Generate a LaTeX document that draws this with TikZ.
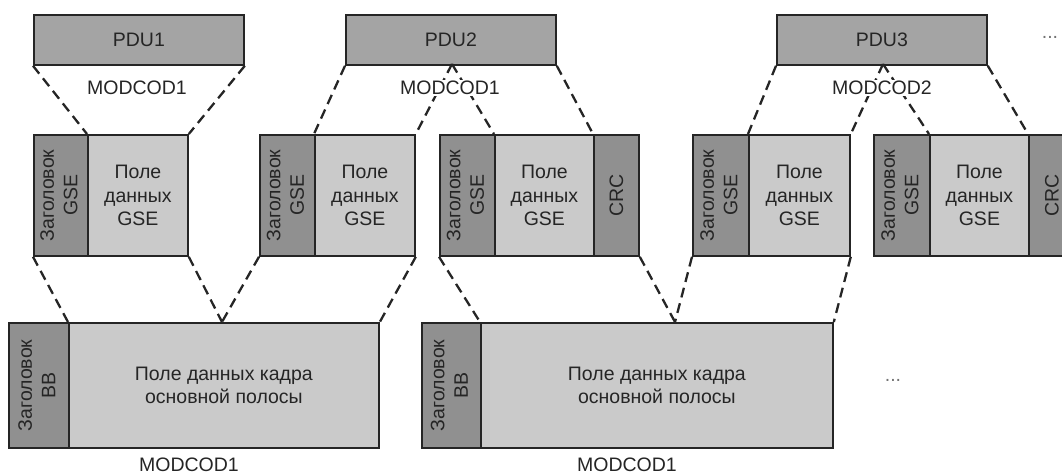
\documentclass[tikz,border=0pt]{standalone}
\usepackage{fontspec}
\setmainfont{Liberation Sans}
\usepackage{graphicx}
\definecolor{hdrgray}{HTML}{909090}
\definecolor{pdugray}{HTML}{A4A4A4}
\definecolor{datgray}{HTML}{CACACA}
\definecolor{ink}{HTML}{252525}
\newcommand{\rtext}[2]{\rotatebox{90}{\begin{tabular}{@{}c@{}}#1\\#2\end{tabular}}}
\begin{document}
\begin{tikzpicture}[x=1pt,y=-1pt,
  blk/.style={draw=ink, line width=1.8pt, inner sep=0pt, anchor=north west,
    text=ink, align=center, font=\fontsize{19.5}{23.5}\selectfont},
  hdr/.style={blk, fill=hdrgray},
  dat/.style={blk, fill=datgray},
  pdu/.style={blk, fill=pdugray, minimum height=50pt},
  gse/.style={minimum height=121pt},
  bb/.style={minimum height=125pt},
  lbl/.style={text=ink, font=\fontsize{19.5}{23.5}\selectfont, inner sep=1pt},
  wlbl/.style={lbl, fill=white},
  dots/.style={text=black!55, font=\fontsize{19.5}{23.5}\selectfont, inner sep=0pt},
  link/.style={draw=ink, line width=2.3pt, dash pattern=on 10pt off 6pt}]
\useasboundingbox (0,0) rectangle (1062,476);

% PDUs
\node[pdu, minimum width=210pt] (pdu1) at (33,14) {PDU1};
\node[pdu, minimum width=210pt] (pdu2) at (345,14) {PDU2};
\node[pdu, minimum width=210pt] (pdu3) at (776,14) {PDU3};
\node[dots] (dtop) at (1050,37) {...};

% GSE packets
\node[hdr, gse, minimum width=54pt] (h1) at (33,134) {\rtext{Заголовок}{GSE}};
\node[dat, gse, minimum width=100pt] (d1) at (87,134) {Поле\\данных\\GSE};

\node[hdr, gse, minimum width=55pt] (h2) at (259,134) {\rtext{Заголовок}{GSE}};
\node[dat, gse, minimum width=100pt] (d2) at (314,134) {Поле\\данных\\GSE};

\node[hdr, gse, minimum width=55pt] (h3) at (439,134) {\rtext{Заголовок}{GSE}};
\node[dat, gse, minimum width=99pt] (d3) at (494,134) {Поле\\данных\\GSE};
\node[hdr, gse, minimum width=45pt] (c3) at (593,134) {\rotatebox{90}{CRC}};

\node[hdr, gse, minimum width=56pt] (h4) at (692,134) {\rtext{Заголовок}{GSE}};
\node[dat, gse, minimum width=101pt] (d4) at (748,134) {Поле\\данных\\GSE};

\node[hdr, gse, minimum width=56pt] (h5) at (873,134) {\rtext{Заголовок}{GSE}};
\node[dat, gse, minimum width=99pt] (d5) at (929,134) {Поле\\данных\\GSE};
\node[hdr, gse, minimum width=46pt] (c5) at (1028,134) {\rotatebox{90}{CRC}};

% BB frames
\node[hdr, bb, minimum width=60pt] (bh1) at (8,322) {\rtext{Заголовок}{BB}};
\node[dat, bb, minimum width=310pt] (bd1) at (68,322) {Поле данных кадра\\основной полосы};
\node[hdr, bb, minimum width=59pt] (bh2) at (421,322) {\rtext{Заголовок}{BB}};
\node[dat, bb, minimum width=352pt] (bd2) at (480,322) {Поле данных кадра\\основной полосы};
\node[dots] (dbot) at (893,380) {...};

% apex points
\coordinate (a2) at (452,64);
\coordinate (a3) at (883,64);
\coordinate (b1) at (222,322);
\coordinate (b2) at (675,322);

% upper connectors
\draw[link] (pdu1.south west) -- (d1.north west);
\draw[link] (pdu1.south east) -- (d1.north east);
\draw[link] (pdu2.south west) -- (d2.north west);
\draw[link] (a2) -- (d2.north east);
\draw[link] (a2) -- (d3.north west);
\draw[link] (pdu2.south east) -- (c3.north west);
\draw[link] (pdu3.south west) -- (d4.north west);
\draw[link] (a3) -- (d4.north east);
\draw[link] (a3) -- (d5.north west);
\draw[link] (pdu3.south east) -- (c5.north west);

% lower connectors
\draw[link] (h1.south west) -- (bd1.north west);
\draw[link] (d1.south east) -- (b1);
\draw[link] (h2.south west) -- (b1);
\draw[link] (d2.south east) -- (bd1.north east);
\draw[link] (h3.south west) -- (bd2.north west);
\draw[link] (c3.south east) -- (b2);
\draw[link] (h4.south west) -- (b2);
\draw[link] (d4.south east) -- (bd2.north east);

% labels
\node[wlbl] (m1) at (137,88) {MODCOD1};
\node[wlbl] (m2) at (450,88) {MODCOD1};
\node[wlbl] (m3) at (882,88) {MODCOD2};
\node[lbl] (m4) at (189,465) {MODCOD1};
\node[lbl] (m5) at (627,465) {MODCOD1};
\end{tikzpicture}
\end{document}
